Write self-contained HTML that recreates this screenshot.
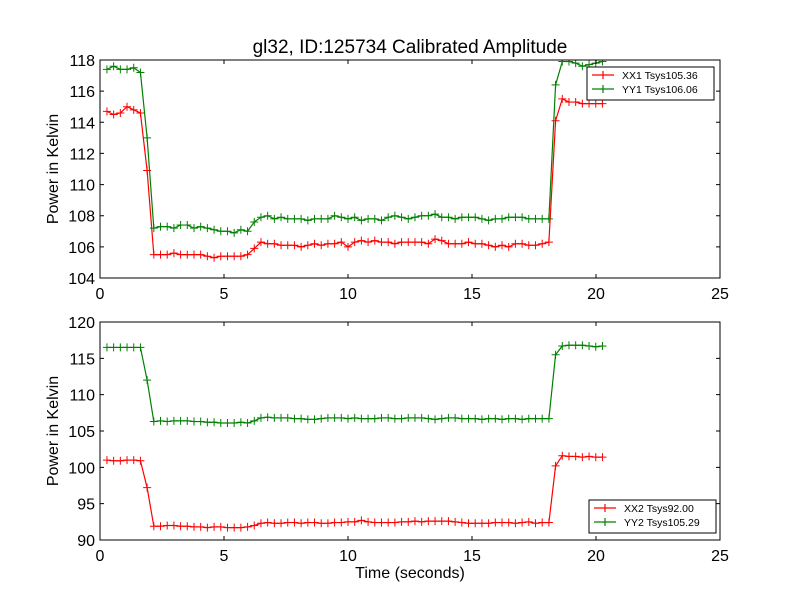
<!DOCTYPE html>
<html><head><meta charset="utf-8"><style>
html,body{margin:0;padding:0;background:#fff;}
svg{display:block;font-family:"Liberation Sans","DejaVu Sans",sans-serif;}
</style></head><body>
<svg id="chart" width="800" height="600" viewBox="0 0 800 600">
<rect width="800" height="600" fill="#fff"/>
<text x="410" y="53" font-size="19" text-anchor="middle">gl32, ID:125734 Calibrated Amplitude</text>
<text x="410" y="578" font-size="16" text-anchor="middle">Time (seconds)</text>
</svg>
<script>
const T0 = 0.28, DT = 0.27;
const xTicks = [0, 5, 10, 15, 20, 25];
const yTicksTop = [104, 106, 108, 110, 112, 114, 116, 118];
const yTicksBot = [90, 95, 100, 105, 110, 115, 120];
const xx1 = [114.7,114.5,114.6,115.0,114.8,114.6,110.9,
105.5,105.5,105.5,105.6,105.5,105.5,105.5,105.5,105.4,105.3,105.4,105.4,105.4,105.4,105.5,
105.9,
106.3,106.2,106.2,106.1,106.1,106.1,106.0,106.1,106.2,106.1,
106.2,106.2,106.3,106.0,106.3,106.4,106.3,106.4,106.3,106.3,
106.2,106.3,106.3,106.3,106.3,106.2,106.5,106.4,106.2,106.2,
106.2,106.3,106.2,106.2,106.1,106.0,106.1,106.0,106.2,106.2,
106.1,106.1,106.2,106.3,
114.1,115.5,115.3,115.3,115.2,115.2,115.2,115.2];
const yy1 = [117.4,117.6,117.4,117.4,117.5,117.2,113.0,
107.2,107.3,107.3,107.2,107.4,107.4,107.2,107.3,107.2,107.1,107.0,107.0,106.9,107.1,107.0,
107.6,107.9,
108.0,107.8,107.9,107.8,107.8,107.8,107.7,107.8,107.8,107.8,
108.0,107.9,107.8,107.9,107.7,107.8,107.8,107.7,107.9,108.0,
107.9,107.8,107.9,108.0,108.0,108.1,107.9,107.9,107.8,107.9,
107.9,107.9,107.8,107.7,107.8,107.8,107.9,107.9,107.9,107.8,
107.8,107.8,107.8,
116.4,117.9,117.9,117.8,117.6,117.7,117.8,117.9];
const xx2 = [101.0,100.9,100.9,101.0,101.0,100.9,97.2,
91.9,91.9,92.0,92.0,91.9,91.9,91.8,91.8,91.7,91.8,91.8,91.7,91.7,91.7,91.8,
92.0,92.3,
92.4,92.3,92.3,92.4,92.4,92.3,92.4,92.4,92.3,92.3,
92.4,92.4,92.5,92.5,92.7,92.5,92.4,92.4,92.4,92.4,
92.5,92.5,92.6,92.5,92.6,92.6,92.6,92.6,92.5,92.4,
92.3,92.3,92.3,92.3,92.4,92.4,92.4,92.3,92.4,92.5,
92.3,92.4,92.4,
100.2,101.6,101.5,101.5,101.4,101.5,101.4,101.4];
const yy2 = [116.5,116.5,116.5,116.5,116.5,116.5,112.0,
106.3,106.4,106.3,106.4,106.4,106.4,106.3,106.3,106.2,106.2,106.1,106.1,106.1,106.2,106.1,
106.4,106.8,
106.9,106.8,106.8,106.8,106.7,106.7,106.6,106.6,106.7,106.8,
106.8,106.8,106.7,106.8,106.7,106.7,106.7,106.8,106.8,106.7,
106.7,106.8,106.8,106.8,106.7,106.6,106.7,106.8,106.8,106.7,
106.7,106.7,106.6,106.7,106.7,106.6,106.7,106.7,106.6,106.7,
106.7,106.7,106.7,
115.5,116.7,116.8,116.8,116.8,116.7,116.6,116.7];
const legendTop = ["XX1 Tsys105.36", "YY1 Tsys106.06"];
const legendBot = ["XX2 Tsys92.00", "YY2 Tsys105.29"];

const NS = "http://www.w3.org/2000/svg";
const svg = document.getElementById("chart");
function mk(tag, attrs, parent) {
  const e = document.createElementNS(NS, tag);
  for (const k in attrs) e.setAttribute(k, attrs[k]);
  (parent || svg).appendChild(e);
  return e;
}

function panel(id, top, bottom, yMin, yMax, yTicks, series, legend, legendBox) {
  const L = 100, R = 720;
  const sx = v => L + (v - 0) / 25 * (R - L);
  const sy = v => bottom - (v - yMin) / (yMax - yMin) * (bottom - top);
  const g = mk("g", {});
  
  
  const clip = mk("clipPath", {id: id + "-clip"}, g);
  mk("rect", {x: L, y: top, width: R - L, height: bottom - top}, clip);
  series.forEach(s => {
    const sg = mk("g", {"clip-path": "url(#" + id + "-clip)"}, g);
    
    
    const pts = s.vals.map((v, i) => sx(T0 + i * DT).toFixed(2) + "," + sy(v).toFixed(2)).join(" ");
    const pl = mk("polyline", {points: pts, fill: "none", stroke: s.color, "stroke-width": 1.2}, sg);
    
    
    s.vals.forEach((v, i) => {
      const x = sx(T0 + i * DT), y = sy(v);
      const m = mk("path", {d: `M${x-4},${y}H${x+4}M${x},${y-4}V${y+4}`, stroke: s.color, "stroke-width": 1}, sg);
      
      
    });
  });
  const fr = mk("rect", {x: L, y: top, width: R - L, height: bottom - top, fill: "none", stroke: "#000", "stroke-width": 1}, g);
  
  
  xTicks.forEach(t => {
    const x = sx(t);
    mk("path", {d: `M${x},${bottom}v-4M${x},${top}v4`, stroke: "#000", "stroke-width": 1}, g);
    const tx = mk("text", {x: x, y: bottom + 21, "font-size": 16, "text-anchor": "middle"}, g);
    
    
    tx.textContent = t;
  });
  yTicks.forEach(t => {
    const y = sy(t);
    mk("path", {d: `M${L},${y}h4M${R},${y}h-4`, stroke: "#000", "stroke-width": 1}, g);
    const tx = mk("text", {x: L - 5, y: y + 6, "font-size": 16, "text-anchor": "end"}, g);
    
    
    tx.textContent = t;
  });
  const yl = mk("text", {x: 0, y: 0, "font-size": 16, "text-anchor": "middle", transform: `translate(58,${(top + bottom) / 2}) rotate(-90)`}, g);
  
  
  yl.textContent = "Power in Kelvin";
  const lg = mk("g", {}, g);
  
  
  mk("rect", {x: legendBox[0], y: legendBox[1], width: legendBox[2], height: legendBox[3], fill: "#fff", stroke: "#000", "stroke-width": 1}, lg);
  legend.forEach((txt, i) => {
    const y = legendBox[1] + 8 + i * 14;
    const x0 = legendBox[0] + 5;
    const e = mk("g", {}, lg);
    
    
    const c = series[i].color;
    mk("path", {d: `M${x0},${y}h22M${x0+11-4},${y}h8M${x0+11},${y-4}v8`, stroke: c, "stroke-width": 1.2}, e);
    const t = mk("text", {x: x0 + 30, y: y + 4, "font-size": 10.5}, e);
    t.textContent = txt;
  });
}

panel("top", 60, 278, 104, 118, yTicksTop,
  [{name: "xx1-series", vals: xx1, color: "#ff0000"}, {name: "yy1-series", vals: yy1, color: "#008000"}],
  legendTop, [587, 67, 127, 33]);
panel("bottom", 322, 540, 90, 120, yTicksBot,
  [{name: "xx2-series", vals: xx2, color: "#ff0000"}, {name: "yy2-series", vals: yy2, color: "#008000"}],
  legendBot, [589, 500, 127, 33]);
</script>
</body></html>
